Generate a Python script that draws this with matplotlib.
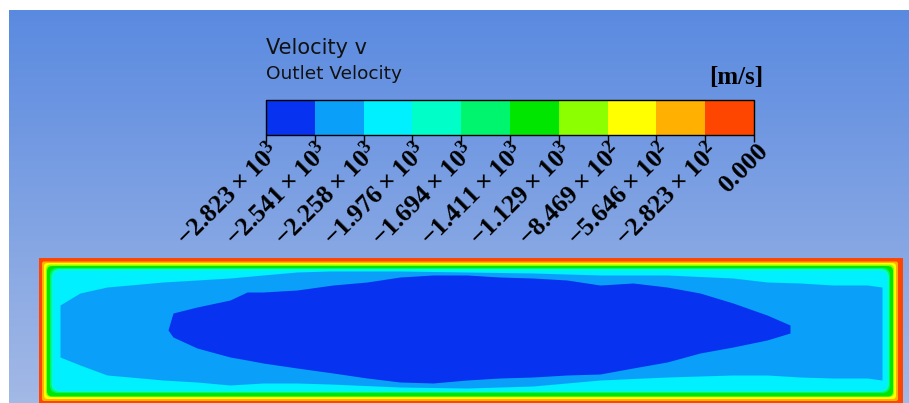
import matplotlib.pyplot as plt
import numpy as np
from matplotlib.cm import ScalarMappable
from matplotlib.colors import BoundaryNorm, LinearSegmentedColormap, ListedColormap
from matplotlib.patches import FancyBboxPatch, Rectangle

plt.rcParams["mathtext.fontset"] = "custom"
plt.rcParams["mathtext.rm"] = "Liberation Serif:bold"
plt.rcParams["mathtext.bf"] = "Liberation Serif:bold"
plt.rcParams["mathtext.default"] = "bf"

# contour levels of the outlet velocity v [m/s]
levels = [-2823.0, -2541.0, -2258.0, -1976.0, -1694.0, -1411.0,
          -1129.0, -846.9, -564.6, -282.3, 0.0]
level_labels = [r"$-2.823\times10^{3}$", r"$-2.541\times10^{3}$", r"$-2.258\times10^{3}$",
                r"$-1.976\times10^{3}$", r"$-1.694\times10^{3}$", r"$-1.411\times10^{3}$",
                r"$-1.129\times10^{3}$", r"$-8.469\times10^{2}$", r"$-5.646\times10^{2}$",
                r"$-2.823\times10^{2}$", r"$0.000$"]
band_colors = ["#0733f0", "#0aa0fa", "#00f0ff", "#00ffc8", "#00f56e",
               "#00e600", "#8cff00", "#ffff00", "#ffb000", "#ff4600"]

# outlet section, width x height
outlet_w = 864
outlet_h = 146

# wall distance of each band edge near the walls (orange ... cyan)
inset_left = [3, 5, 7, 8, 11, 12.5, 14]
inset_right = [5, 7, 9, 10, 13, 14, 15.5]
inset_bottom = [3, 5, 7, 7.5, 11, 12, 13]
inset_top = [3.5, 5, 6.5, 8, 10, 11, 12.5]

# v < -2258 region (light blue)
lb_x = [21, 41, 68, 91, 124, 158, 191, 224, 258, 291, 361,
        428, 494, 561, 628, 694, 728, 761, 794, 828, 843]
lb_top = [99, 111, 117, 119, 122, 124, 126, 129, 132, 133, 133,
          132, 131, 129, 129, 126, 122, 121, 119, 119, 117]
lb_bottom = [47, 39, 29, 27, 24, 22, 19, 21, 21, 20, 17,
             16, 18, 24, 27, 29, 29, 27, 26, 26, 24]

# v < -2541 core (dark blue)
db_x = [129, 134, 158, 191, 208, 224, 258, 294, 328, 361, 394,
        428, 461, 494, 528, 561, 594, 628, 661, 694, 728, 751]
db_top = [74, 91, 97, 104, 112, 112, 114, 119, 122, 127, 129,
          129, 127, 126, 124, 119, 121, 117, 111, 101, 89, 79]
db_bottom = [74, 67, 56, 47, 44, 41, 36, 31, 26, 22, 21,
             24, 26, 27, 29, 30, 36, 42, 51, 57, 64, 71]

W, H = 909, 403
fig = plt.figure(figsize=(W / 100, H / 100), dpi=100, facecolor="white")

# shaded viewport background
bg = fig.add_axes([9 / W, 0, 1 - 9 / W, 1 - 10 / H], zorder=-5)
fade = LinearSegmentedColormap.from_list("viewport", ["#5a8ae0", "#a3b9e6"])
bg.imshow(np.linspace(0, 1, 256)[:, None], aspect="auto", cmap=fade)
bg.axis("off")

cmap = ListedColormap(band_colors)
norm = BoundaryNorm(levels, cmap.N)

# legend bar
cax = fig.add_axes([266 / W, 1 - 135 / H, 488 / W, 35 / H])
cb = fig.colorbar(ScalarMappable(norm=norm, cmap=cmap), cax=cax,
                  orientation="horizontal", ticks=levels)
cb.outline.set_linewidth(1.0)
cb.set_ticks(levels, labels=[""] * len(levels))
cax.tick_params(axis="x", direction="out", length=5, width=1)
for lev, text in zip(levels, level_labels):
    cax.annotate(text, xy=(lev, 0), xycoords=("data", "axes fraction"),
                 xytext=(1, -4), textcoords="offset pixels",
                 rotation=45, rotation_mode="anchor", ha="right", va="top",
                 fontsize=18.5, annotation_clip=False)

fig.text(266 / W, 1 - 54 / H, "Velocity v", family="DejaVu Sans",
         fontsize=15, color="#111111", va="baseline")
fig.text(266 / W, 1 - 79 / H, "Outlet Velocity", family="DejaVu Sans",
         fontsize=13.3, color="#111111", va="baseline")
fig.text(763 / W, 1 - 84 / H, "[m/s]", family="Liberation Serif",
         fontweight="bold", fontsize=18, ha="right", va="baseline")

# outlet contour plot
ax = fig.add_axes([39 / W, -1 / H, outlet_w / W, outlet_h / H])
ax.set_xlim(0, outlet_w)
ax.set_ylim(0, outlet_h)
ax.axis("off")
ax.add_patch(Rectangle((0, 0), outlet_w, outlet_h, fc=band_colors[9], ec="none"))
for k, (l, r, b, t) in enumerate(zip(inset_left, inset_right, inset_bottom, inset_top)):
    ax.add_patch(FancyBboxPatch(
        (l, b), outlet_w - l - r, outlet_h - b - t,
        boxstyle=f"round,pad=0,rounding_size={0.7 * min(l, b):.1f}",
        fc=band_colors[8 - k], ec="none"))
ax.fill_between(lb_x, lb_bottom, lb_top, color=band_colors[1], lw=0)
ax.fill_between(db_x, db_bottom, db_top, color=band_colors[0], lw=0)

fig.savefig("out.png", dpi=100, facecolor="white")
